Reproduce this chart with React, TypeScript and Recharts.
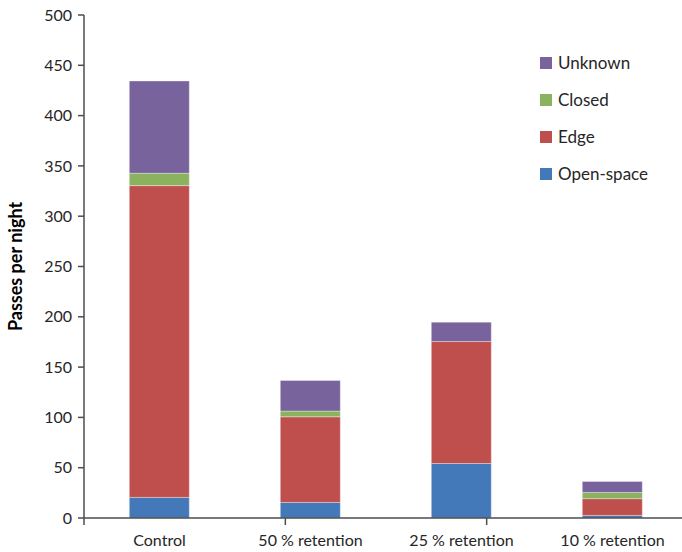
import { BarChart, Bar, XAxis, YAxis } from "recharts";

const categories = ["Control", "50 % retention", "25 % retention", "10 % retention"];
const openSpace = [20.5, 15.5, 54.2, 2.6];
const edge = [309.9, 85.1, 121.2, 16.6];
const closed = [12.3, 5.7, 0, 6.2];
const unknown = [91.7, 30.4, 19.3, 11.0];
const yTicks = [0, 50, 100, 150, 200, 250, 300, 350, 400, 450, 500];
const edgeTicks = [0, 1, 2, 3, 4];

const SERIES = [
  { key: "openSpace", name: "Open-space", color: "#4479B9" },
  { key: "edge", name: "Edge", color: "#BE4F4D" },
  { key: "closed", name: "Closed", color: "#8BB35F" },
  { key: "unknown", name: "Unknown", color: "#78639C" },
];

const data = categories.map((label, i) => ({
  label,
  openSpace: openSpace[i],
  edge: edge[i],
  closed: closed[i],
  unknown: unknown[i],
}));

const FONT = "Lato, 'Open Sans', sans-serif";
const AXIS = "#4d4d4d";

// legend drawn as html on top, so it does not eat plot width
function LegendBox() {
  const items = [...SERIES].reverse();
  return (
    <div style={{ position: "absolute", left: 540, top: 44, fontFamily: FONT, fontSize: 17, color: "#262626" }}>
      {items.map((it) => (
        <div key={it.key} style={{ display: "flex", alignItems: "center", height: 37 }}>
          <span style={{ width: 12, height: 12, background: it.color, marginRight: 6, display: "inline-block" }} />
          {it.name}
        </div>
      ))}
    </div>
  );
}

export default function App() {
  return (
    <div style={{ position: "absolute", left: 0, top: 0, width: 682, height: 552, overflow: "hidden", background: "#fff" }}>
      <BarChart
        width={700}
        height={552}
        data={data}
        margin={{ top: 15, right: 12, bottom: 3, left: 0 }}
        barCategoryGap="30%"
      >
        {/* category edges: the Excel-style ticks between categories */}
        <XAxis
          type="number"
          domain={[0, 4]}
          ticks={edgeTicks}
          allowDataOverflow
          height={1}
          tick={() => <g />}
          tickSize={7}
          stroke={AXIS}
          strokeWidth={1.5}
        />
        <XAxis
          xAxisId="cat"
          dataKey="label"
          axisLine={false}
          tickLine={false}
          height={30}
          tick={{ fontFamily: FONT, fontSize: 16, fill: "#262626" }}
          tickMargin={10}
          interval={0}
        />
        <YAxis
          width={84}
          domain={[0, 500]}
          ticks={yTicks}
          interval={0}
          tickSize={6}
          tickMargin={6}
          stroke={AXIS}
          strokeWidth={1.5}
          tick={{ fontFamily: FONT, fontSize: 16, fill: "#262626" }}
          label={{
            value: "Passes per night",
            angle: -90,
            position: "insideLeft",
            offset: 16,
            style: { fontFamily: FONT, fontSize: 18, fontWeight: 700, fill: "#000", textAnchor: "middle" },
          }}
        />
        {SERIES.map((s) => (
          <Bar
            key={s.key}
            xAxisId="cat"
            dataKey={s.key}
            name={s.name}
            stackId="a"
            fill={s.color}
            stroke="rgba(255,255,255,0.35)"
            strokeWidth={1}
            isAnimationActive={false}
          />
        ))}
      </BarChart>
      <LegendBox />
    </div>
  );
}
